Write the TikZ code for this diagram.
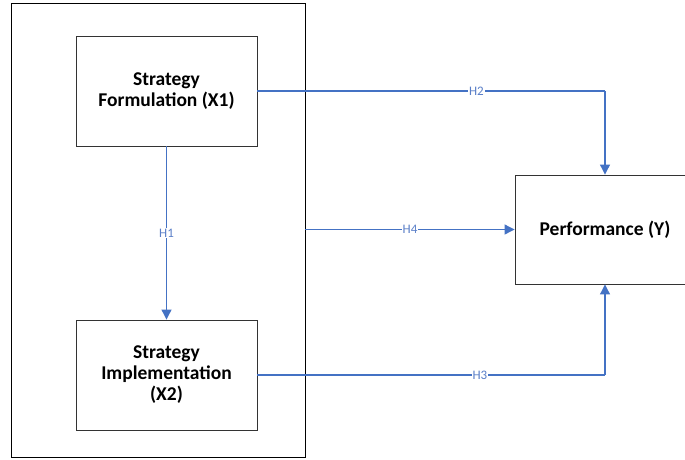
\documentclass[tikz,border=0pt]{standalone}
\usepackage{fontspec}
\setmainfont{Carlito}
\usetikzlibrary{arrows.meta}
\definecolor{linkblue}{HTML}{4472C4}
\definecolor{lablue}{HTML}{5A7FC8}
\tikzset{
  box/.style={draw=black!80, line width=0.9pt, minimum width=181pt, minimum height=110pt, align=center, font=\fontsize{19.5}{21}\selectfont\bfseries, inner sep=0pt},
  link/.style={draw=linkblue, line width=1.1pt},
  arr/.style={link, -{Triangle[length=10pt,width=10pt]}},
  hlab/.style={fill=white, text=lablue, font=\fontsize{13}{14}\selectfont, inner sep=1pt}
}
\begin{document}
\begin{tikzpicture}[x=1pt,y=-1pt]
\useasboundingbox (0,0) rectangle (685,459);
\begin{scope}
\clip (0,0) rectangle (685,459);
\node[draw=black, line width=0.9pt, minimum width=294pt, minimum height=454pt, inner sep=0pt] (outer) at (158,230) {};
\node[box] (x1) at (166.5,91) {Strategy\\Formulation (X1)};
\node[box] (x2) at (166.5,375) {Strategy\\Implementation\\(X2)};
\node[box, minimum width=180pt, minimum height=109pt] (y) at (605,229.5) {Performance (Y)};
\coordinate (c2) at (y.north |- x1.east);
\coordinate (c3) at (y.south |- x2.east);
\draw[arr] (x1.south) -- node[hlab, pos=0.5] {H1} (x2.north);
\draw[link] (x1.east) -- node[hlab, pos=0.63] {H2} (c2);
\draw[arr] (c2) -- (y.north);
\draw[link] (x2.east) -- node[hlab, pos=0.64] {H3} (c3);
\draw[arr] (c3) -- (y.south);
\draw[arr] (outer.east |- y.west) -- node[hlab, pos=0.5] {H4} (y.west);
\end{scope}
\end{tikzpicture}
\end{document}
